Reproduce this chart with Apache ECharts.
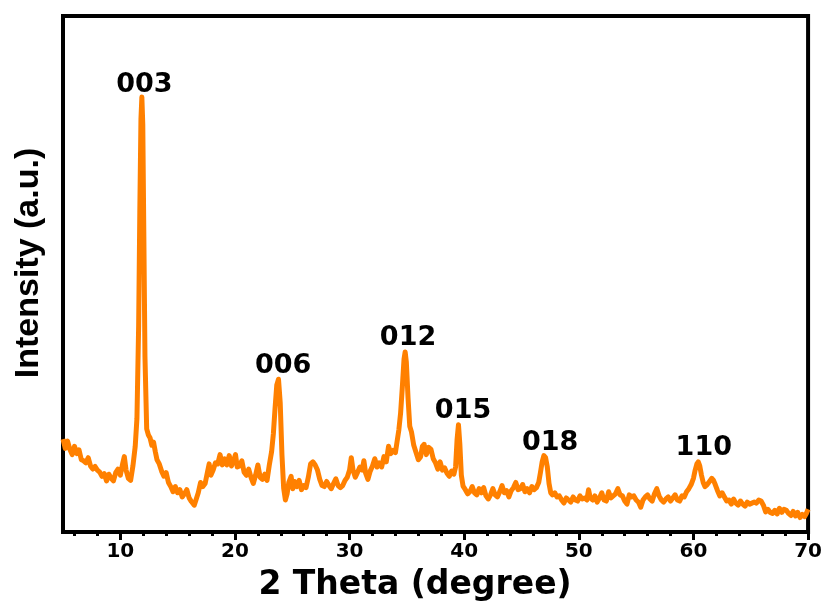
<!DOCTYPE html>
<html>
<head>
<meta charset="utf-8">
<title>XRD pattern</title>
<script src="https://cdn.jsdelivr.net/npm/echarts@6/dist/echarts.min.js"></script>
<style>
  html, body { margin: 0; padding: 0; background: #fff; }
  #chart { width: 825px; height: 602px; }
</style>
</head>
<body>
<div id="chart"></div>
<script>
// scan, [2theta, intensity (a.u.)]
var scanA = [[5.0,18.0],[5.2,16.2],[5.4,17.6],[5.6,16.0],[5.8,15.0],[6.0,16.6],[6.2,15.2],[6.4,15.9],[6.6,14.0],[6.8,13.8],[7.0,13.4],[7.2,14.4],[7.4,12.8],[7.6,12.2],[7.8,12.7],[8.0,12.0],[8.2,11.6],[8.4,10.8],[8.6,11.3],[8.8,9.9],[9.0,11.2],[9.2,10.4],[9.4,9.9],[9.6,11.5],[9.8,12.2],[10.0,11.0],[10.2,13.2],[10.35,14.6],[10.5,12.0],[10.7,10.4],[10.9,10.0],[11.1,12.8],[11.3,16.6],[11.45,22],[11.6,40],[11.7,62],[11.8,80],[11.88,84.3],[11.96,79],[12.05,58],[12.15,34],[12.3,20],[12.45,18.8],[12.6,18.2],[12.75,16.8],[12.9,17.4]];
var scanB = [[13.05,15.6],[13.2,14.0],[13.4,13.2],[13.6,11.8],[13.8,10.8],[14.0,11.5],[14.2,9.6],[14.4,8.8],[14.6,7.8],[14.8,8.8],[15.0,7.6],[15.2,8.2],[15.4,6.8],[15.6,7.4],[15.8,8.2],[16.0,6.6],[16.2,5.9],[16.45,5.2],[16.6,6.2],[16.8,7.6],[17.0,9.6],[17.2,8.8],[17.4,9.4],[17.6,11.6],[17.75,13.2],[17.9,11.0],[18.1,12.0],[18.3,13.4],[18.5,13.2],[18.7,15.0],[18.9,13.0],[19.1,14.2],[19.3,13.0],[19.5,14.8],[19.7,12.8],[19.9,14.0],[20.05,15.0],[20.2,12.6],[20.4,12.8],[20.6,13.8],[20.8,11.6],[21.0,11.0],[21.2,12.2],[21.4,10.6],[21.6,9.4],[21.8,11.0],[22.0,13.0],[22.2,10.6],[22.4,10.2],[22.6,11.2],[22.8,10.0],[23.0,13.0],[23.2,15.6],[23.35,19],[23.5,24],[23.65,28.5],[23.8,29.6],[23.95,25],[24.1,15],[24.25,8.5],[24.4,6.2],[24.55,7.4],[24.7,9.6]];
var scanC = [[24.9,10.8],[25.05,8.4],[25.2,9.8],[25.4,8.8],[25.6,10.0],[25.8,8.2],[26.0,9.0],[26.2,8.6],[26.4,10.6],[26.6,13.2],[26.8,13.6],[27.0,13.0],[27.2,12.0],[27.4,10.2],[27.6,9.0],[27.8,8.8],[28.0,9.8],[28.2,9.0],[28.4,8.4],[28.6,9.4],[28.8,10.3],[29.0,9.0],[29.2,8.6],[29.4,9.0],[29.6,10.0],[29.8,10.6],[30.0,12.0],[30.15,14.4],[30.3,12.0],[30.5,10.6],[30.7,11.6],[30.9,12.6],[31.1,12.0],[31.25,13.8],[31.4,11.4],[31.6,10.2],[31.8,11.8],[32.0,12.8],[32.2,14.2],[32.4,12.6],[32.6,13.4],[32.8,12.6],[33.0,14.6],[33.2,13.6],[33.4,16.6],[33.6,15.2],[33.8,15.8],[34.0,15.4],[34.15,17.6],[34.3,19.8],[34.45,23],[34.6,28],[34.75,33.5],[34.85,34.9],[34.95,33],[35.1,26],[35.25,20.5],[35.4,19.4],[35.6,16.8],[35.8,15.4],[36.0,14.0],[36.2,14.6],[36.35,16.6],[36.5,17.0],[36.7,15.0],[36.9,16.4],[37.1,16.0],[37.3,14.2],[37.5,13.4],[37.7,12.2],[37.9,13.6],[38.1,12.0],[38.3,12.4],[38.5,11.4],[38.7,10.8],[38.9,11.8],[39.1,11.2],[39.25,12.6],[39.38,18],[39.5,20.8],[39.62,17],[39.75,11],[39.9,8.9]];
var scanD = [[40.1,8.2],[40.3,7.4],[40.5,7.8],[40.7,8.8],[40.9,7.6],[41.1,7.2],[41.3,8.4],[41.5,7.6],[41.7,8.6],[41.9,7.0],[42.1,6.4],[42.3,7.2],[42.5,8.4],[42.7,7.2],[42.9,6.8],[43.1,7.8],[43.3,9.0],[43.5,7.6],[43.7,8.0],[43.9,6.8],[44.1,8.0],[44.3,8.6],[44.5,9.6],[44.7,8.2],[44.9,8.4],[45.1,9.2],[45.3,7.8],[45.5,8.4],[45.7,7.6],[45.9,8.8],[46.1,8.2],[46.3,8.6],[46.5,9.6],[46.65,11.5],[46.8,13.6],[46.95,14.8],[47.1,14.4],[47.25,12.6],[47.4,9.4],[47.55,7.6],[47.7,7.2],[47.9,7.6],[48.1,6.8],[48.3,7.0],[48.5,6.2],[48.7,5.6],[48.9,6.6],[49.1,6.2],[49.3,5.8],[49.5,6.8],[49.7,6.2],[49.9,6.0],[50.1,7.0],[50.3,6.4],[50.5,6.6],[50.7,6.2],[50.85,8.2],[51.0,6.6],[51.2,6.2],[51.4,7.0],[51.6,5.8],[51.8,6.6],[52.0,7.6],[52.2,6.2],[52.4,6.0],[52.6,7.8],[52.8,6.6],[53.0,7.0],[53.2,7.4],[53.4,8.4],[53.6,7.2],[53.8,7.0],[54.0,6.0],[54.2,5.4],[54.4,7.2],[54.6,6.8],[54.8,7.0]];
var scanE = [[55.0,6.2],[55.2,5.8],[55.4,4.8],[55.6,6.2],[55.8,6.8],[56.0,7.2],[56.2,6.4],[56.4,6.0],[56.6,7.4],[56.8,8.4],[57.0,7.0],[57.2,6.2],[57.4,5.8],[57.6,6.4],[57.8,6.8],[58.0,6.0],[58.2,6.6],[58.4,7.2],[58.6,6.2],[58.8,6.0],[59.0,7.0],[59.2,6.8],[59.4,7.8],[59.6,8.4],[59.8,9.2],[60.0,10.4],[60.15,12.0],[60.3,13.2],[60.42,13.6],[60.55,12.8],[60.7,11.0],[60.85,9.6],[61.0,8.8],[61.2,9.2],[61.4,9.8],[61.6,10.4],[61.75,10.0],[61.9,9.2],[62.1,8.0],[62.3,7.0],[62.5,7.6],[62.7,6.8],[62.9,6.0],[63.1,6.2],[63.3,5.4],[63.5,6.4],[63.7,5.6],[63.9,5.2],[64.1,6.0],[64.3,5.4],[64.5,5.0],[64.7,5.8],[64.9,5.4],[65.1,5.6],[65.3,5.8],[65.5,5.6],[65.7,6.2],[65.9,6.0],[66.1,5.2],[66.3,3.9],[66.5,4.4],[66.7,3.8],[66.9,3.6],[67.1,4.2],[67.3,3.5],[67.5,4.6],[67.7,3.8],[67.9,4.4],[68.1,4.2],[68.3,3.6],[68.5,3.2],[68.7,4.0],[68.9,3.1],[69.1,3.8],[69.3,2.8],[69.5,3.4],[69.7,3.0],[69.85,3.6],[70.0,4.4]];

// peak indexes (hkl) and where their labels sit
var peakNames = ['003', '006', '012', '015', '018', '110'];
var peakLabelX = [12.1, 24.2, 35.1, 39.9, 47.5, 60.9];
var peakLabelY = [86.7, 32.1, 37.6, 23.4, 17.2, 16.3];

var xTicks = [10, 20, 30, 40, 50, 60, 70];
var xMinorTicks = [6, 8, 12, 14, 16, 18, 22, 24, 26, 28, 32, 34, 36, 38, 42, 44, 46, 48, 52, 54, 56, 58, 62, 64, 66, 68];

var scan = scanA.concat(scanB, scanC, scanD, scanE);

var chart = echarts.init(document.getElementById('chart'));

var option = {
  animation: false,
  backgroundColor: '#fff',
  grid: {
    left: 63, right: 15, top: 16, bottom: 70,
    show: true, borderColor: '#000', borderWidth: 4, backgroundColor: 'transparent'
  },
  xAxis: [
    {
      type: 'value', min: 5, max: 70, position: 'bottom',
      axisLine: { show: true, lineStyle: { color: '#000', width: 4 } },
      axisTick: { show: true, customValues: xTicks, length: 8, lineStyle: { color: '#000', width: 3 } },
      axisLabel: {
        customValues: xTicks, margin: 10,
        fontFamily: 'DejaVu Sans', fontWeight: 'bold', fontSize: 20, color: '#000'
      },
      splitLine: { show: false }
    },
    {
      type: 'value', min: 5, max: 70, position: 'bottom',
      axisLine: { show: false },
      axisTick: { show: true, customValues: xMinorTicks, length: 4, lineStyle: { color: '#000', width: 3 } },
      axisLabel: { show: false },
      splitLine: { show: false }
    }
  ],
  yAxis: {
    type: 'value', min: 0, max: 100,
    axisLine: { show: false }, axisTick: { show: false },
    axisLabel: { show: false }, splitLine: { show: false }
  },
  series: [
    {
      name: 'XRD', type: 'line', xAxisIndex: 0, data: scan,
      showSymbol: false, symbol: 'none',
      lineStyle: { color: '#ff8000', width: 5, join: 'round' },
      z: 2
    },
    {
      name: 'peaks', type: 'scatter', xAxisIndex: 0, symbolSize: 0,
      itemStyle: { opacity: 1 },
      data: peakNames.map(function (n, i) { return { name: n, value: [peakLabelX[i], peakLabelY[i]] }; }),
      label: {
        show: true, position: 'inside', formatter: '{b}', opacity: 1,
        fontFamily: 'DejaVu Sans', fontWeight: 'bold', fontSize: 27, color: '#000'
      },
      z: 3
    }
  ],
  graphic: [
    {
      type: 'text', x: 415, y: 585,
      style: {
        text: '2 Theta (degree)', fill: '#000',
        font: 'bold 33px "DejaVu Sans"', textAlign: 'center', textVerticalAlign: 'middle'
      }
    },
    {
      type: 'text', x: 29, y: 263, rotation: Math.PI / 2,
      style: {
        text: 'Intensity (a.u.)', fill: '#000',
        font: 'bold 34px "Liberation Sans"', textAlign: 'center', textVerticalAlign: 'middle'
      }
    }
  ]
};

chart.setOption(option);
</script>
</body>
</html>
